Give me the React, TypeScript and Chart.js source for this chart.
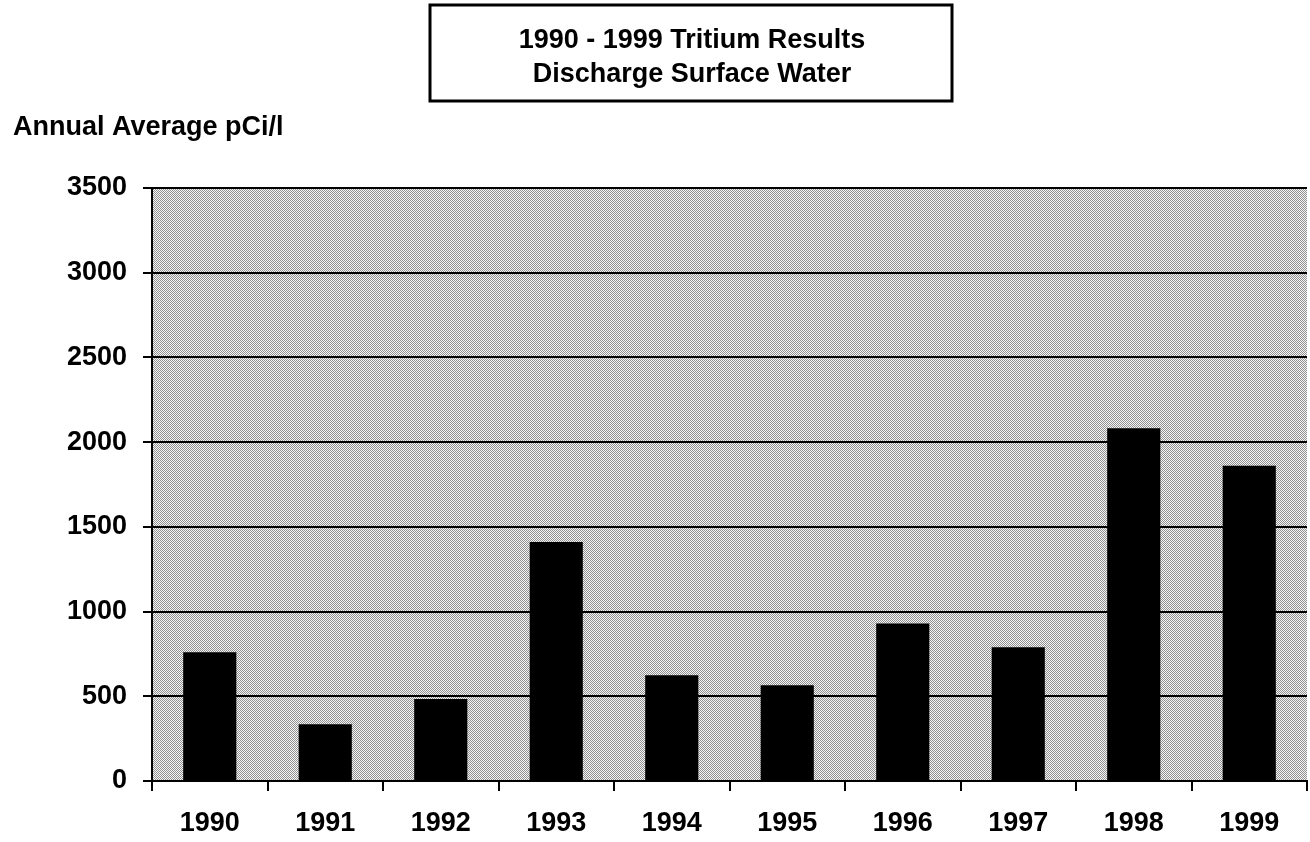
import React, { useEffect, useRef } from "react";
import { Chart, registerables } from "chart.js";

Chart.register(...registerables);

const categories = ["1990", "1991", "1992", "1993", "1994", "1995", "1996", "1997", "1998", "1999"];
const values = [760, 335, 484, 1410, 624, 565, 929, 789, 2082, 1861];
const titleLines = ["1990 - 1999 Tritium Results", "Discharge Surface Water"];
const yAxisTitle = "Annual Average pCi/l";
const yMin = 0;
const yMax = 3500;
const yStep = 500;

const FONT = "'Liberation Sans', Arial, sans-serif";

export default function App() {
  const ref = useRef<HTMLCanvasElement | null>(null);

  useEffect(() => {
    document.body.style.margin = "0";
    document.body.style.overflow = "hidden";
    const canvas = ref.current;
    if (!canvas) return;

    const pc = document.createElement("canvas");
    pc.width = 2;
    pc.height = 2;
    const pctx = pc.getContext("2d")!;
    pctx.fillStyle = "#f6f6f6";
    pctx.fillRect(0, 0, 2, 2);
    pctx.fillStyle = "#909090";
    pctx.fillRect(0, 0, 1, 1);
    pctx.fillRect(1, 1, 1, 1);

    const bgPlugin = {
      id: "bgPattern",
      beforeDraw(chart: any) {
        const { ctx, chartArea } = chart;
        ctx.save();
        ctx.fillStyle = "#ffffff";
        ctx.fillRect(0, 0, chart.width, chart.height);
        const pat = ctx.createPattern(pc, "repeat");
        ctx.fillStyle = pat;
        ctx.fillRect(chartArea.left, chartArea.top, chartArea.right - chartArea.left, chartArea.bottom - chartArea.top);
        ctx.restore();
      },
    };

    const textPlugin = {
      id: "titleBox",
      afterDraw(chart: any) {
        const { ctx } = chart;
        ctx.save();
        ctx.strokeStyle = "#000";
        ctx.lineWidth = 3;
        ctx.strokeRect(430, 5, 522, 96);
        ctx.fillStyle = "#000";
        ctx.font = `bold 27px ${FONT}`;
        ctx.textAlign = "center";
        ctx.textBaseline = "alphabetic";
        ctx.fillText(titleLines[0], 692, 48);
        ctx.fillText(titleLines[1], 692, 82);
        ctx.textAlign = "left";
        ctx.fillText(yAxisTitle, 13, 135);
        ctx.restore();
      },
    };

    const chart = new Chart(canvas, {
      type: "bar",
      data: {
        labels: categories,
        datasets: [
          {
            data: values,
            backgroundColor: "#000000",
            borderWidth: 0,
            barPercentage: 0.46,
            categoryPercentage: 1,
          },
        ],
      },
      options: {
        animation: false,
        responsive: false,
        maintainAspectRatio: false,
        layout: { padding: { top: 188, right: 3, left: 0, bottom: 0 } },
        plugins: {
          legend: { display: false },
          title: { display: false },
          tooltip: { enabled: false },
        },
        scales: {
          x: {
            grid: {
              display: true,
              drawOnChartArea: false,
              drawTicks: true,
              tickLength: 10,
              color: "#000",
              lineWidth: 2,
              offset: true,
            },
            border: { display: true, color: "#000", width: 2 },
            ticks: {
              color: "#000",
              font: { family: FONT, size: 27, weight: "bold" },
              padding: 16,
              maxRotation: 0,
            },
            afterFit(s: any) {
              s.height = 61;
            },
          },
          y: {
            min: yMin,
            max: yMax,
            grid: {
              color: "#000",
              lineWidth: 2,
              tickLength: 9,
              drawTicks: true,
            },
            border: { display: true, color: "#000", width: 2 },
            ticks: {
              stepSize: yStep,
              color: "#000",
              font: { family: FONT, size: 27, weight: "bold" },
              padding: 16,
              callback: (v: any) => String(v),
            },
            afterFit(s: any) {
              s.width = 152;
            },
          },
        },
      },
      plugins: [bgPlugin, textPlugin],
    });

    return () => chart.destroy();
  }, []);

  return (
    <div style={{ width: 1310, height: 842 }}>
      <canvas ref={ref} width={1310} height={842} style={{ display: "block" }} />
    </div>
  );
}
